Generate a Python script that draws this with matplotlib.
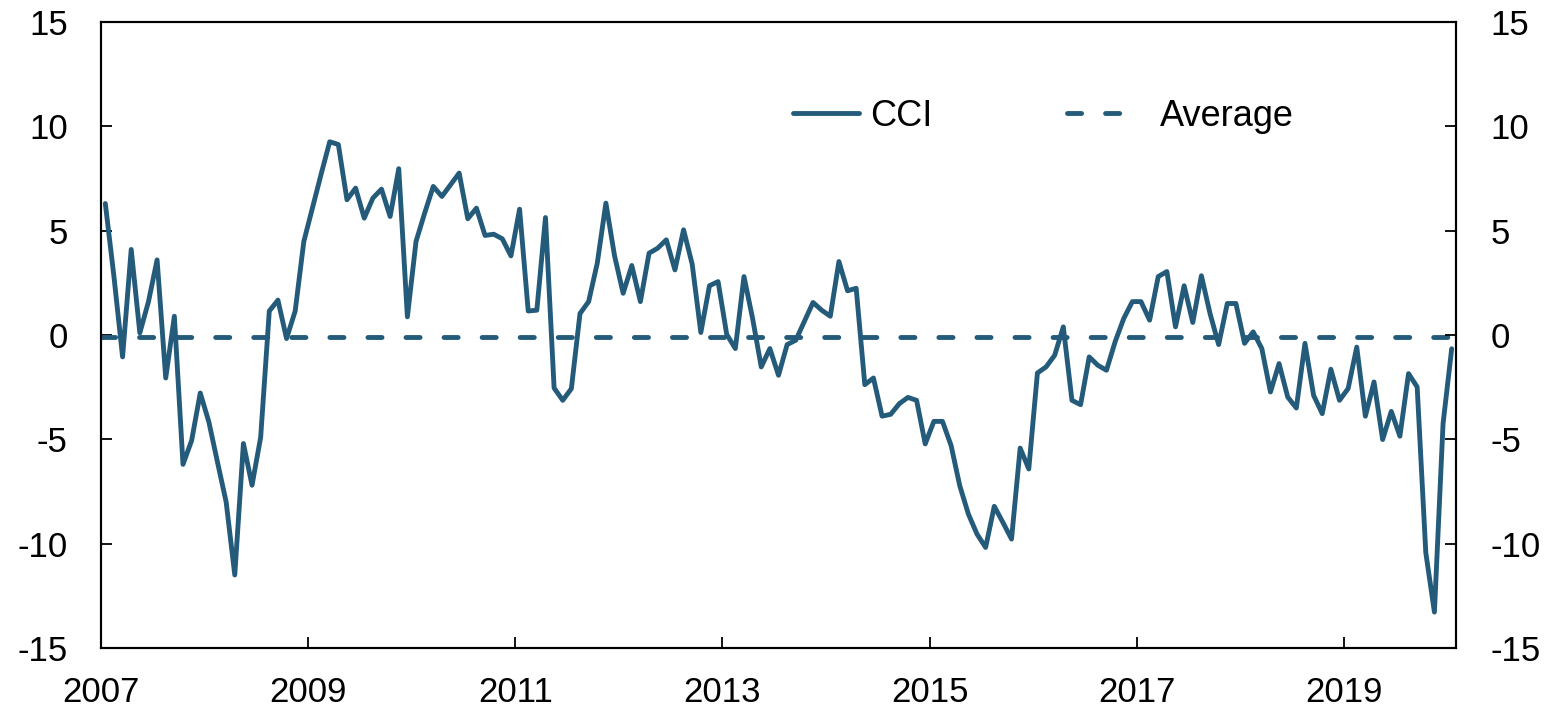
import matplotlib
matplotlib.use("Agg")
import matplotlib.pyplot as plt
import numpy as np

plt.rcParams['font.family'] = ['Liberation Sans', 'DejaVu Sans']

# Monthly CCI values, Jan 2007 .. Jan 2020
cci = [
    6.3, 2.8, -1.05, 4.1, 0.1, 1.6, 3.6, -2.06, 0.9, -6.2,
    -5.06, -2.78, -4.17, -6.1, -8.0, -11.5, -5.2, -7.2, -4.9, 1.15,
    1.67, -0.17, 1.15, 4.48, 6.1, 7.7, 9.26, 9.13, 6.48, 7.04,
    5.6, 6.56, 6.99, 5.68, 7.97, 0.87, 4.48, 5.84, 7.12, 6.64,
    7.2, 7.76, 5.57, 6.08, 4.77, 4.83, 4.61, 3.79, 6.03, 1.15,
    1.19, 5.63, -2.54, -3.13, -2.57, 1.03, 1.6, 3.44, 6.32, 3.8,
    2.0, 3.33, 1.6, 3.92, 4.16, 4.56, 3.12, 5.04, 3.39, 0.12,
    2.36, 2.56, 0.03, -0.65, 2.8, 0.79, -1.53, -0.65, -1.93, -0.46,
    -0.25, 0.66, 1.56, 1.19, 0.9, 3.52, 2.12, 2.24, -2.38, -2.06,
    -3.89, -3.8, -3.29, -2.99, -3.13, -5.22, -4.14, -4.14, -5.3, -7.22,
    -8.58, -9.54, -10.18, -8.21, -8.98, -9.78, -5.42, -6.42, -1.82, -1.53,
    -0.97, 0.39, -3.13, -3.34, -1.05, -1.45, -1.69, -0.33, 0.79, 1.6,
    1.6, 0.71, 2.8, 3.04, 0.39, 2.36, 0.6, 2.84, 1.03, -0.46,
    1.51, 1.51, -0.4, 0.15, -0.65, -2.73, -1.37, -2.97, -3.5, -0.4,
    -2.89, -3.77, -1.64, -3.13, -2.57, -0.58, -3.89, -2.25, -5.01, -3.66,
    -4.85, -1.85, -2.49, -10.43, -13.28, -4.25, -0.66,
]
average = -0.1
year_labels = ['2007', '2009', '2011', '2013', '2015', '2017', '2019']
y_ticks = [-15, -10, -5, 0, 5, 10, 15]

color = '#245B7B'
n = len(cci)
x = np.arange(n)

fig = plt.figure(figsize=(15.53, 7.09), dpi=100)
ax = fig.add_axes([101/1553, 1 - 648/709, (1456-101)/1553, (648-22)/709])

lw = 3.5
dash = (0, (2.9, 4.93))
l1, = ax.plot(x, cci, color=color, lw=lw, label='CCI', solid_joinstyle='round', solid_capstyle='round')
l2, = ax.plot([-0.5, n - 0.5], [average, average], color=color, lw=lw,
              ls=dash, dash_capstyle='round', label='Average')

ax.set_xlim(-0.5, n - 0.5)
ax.set_ylim(-15, 15)
ax.set_yticks(y_ticks)
ax.set_yticklabels([str(v) for v in y_ticks])
xt = [-0.5 + 24 * k for k in range(len(year_labels))]
ax.set_xticks(xt)
ax.set_xticklabels(year_labels)

for s in ax.spines.values():
    s.set_linewidth(1.5)
ax.tick_params(axis='y', direction='in', length=8, width=1.3, labelsize=25, pad=24)
ax.tick_params(axis='x', direction='in', length=8, width=1.3, labelsize=25, pad=20)

ax2 = ax.twinx()
ax2.set_ylim(-15, 15)
ax2.set_yticks(y_ticks)
ax2.set_yticklabels([str(v) for v in y_ticks])
ax2.tick_params(axis='y', direction='in', length=8, width=1.3, labelsize=25, pad=25)
for s in ax2.spines.values():
    s.set_linewidth(1.5)

leg1 = fig.legend(handles=[l1], loc='center left', bbox_to_anchor=(793/1553, 1 - 116/709),
                  frameon=False, fontsize=26, handlelength=1.83, handletextpad=0.3,
                  borderpad=0, borderaxespad=0)
leg2 = fig.legend(handles=[l2], loc='center left', bbox_to_anchor=(1067/1553, 1 - 116/709),
                  frameon=False, fontsize=26, handlelength=1.55, handletextpad=1.03,
                  borderpad=0, borderaxespad=0)

fig.savefig('out.png', dpi=100)
